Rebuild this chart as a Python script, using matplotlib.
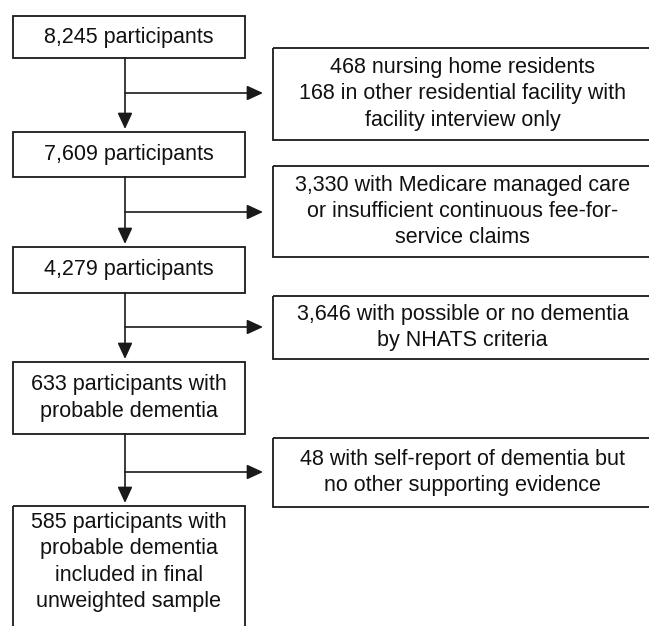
import matplotlib

matplotlib.use("Agg")
import matplotlib.pyplot as plt
from matplotlib.patches import Rectangle

W, H = 649, 626
LINE = "#1a1a1a"
FONT = "Liberation Sans"
FS = 15.5

# flow boxes (left column), top to bottom
MAIN_TEXT = [
    "8,245 participants",
    "7,609 participants",
    "4,279 participants",
    "633 participants with\nprobable dementia",
    "585 participants with\nprobable dementia\nincluded in final\nunweighted sample",
]
# exclusion boxes (right column)
EXCL_TEXT = [
    "468 nursing home residents\n168 in other residential facility with\nfacility interview only",
    "3,330 with Medicare managed care\nor insufficient continuous fee-for-\nservice claims",
    "3,646 with possible or no dementia\nby NHATS criteria",
    "48 with self-report of dementia but\nno other supporting evidence",
]

# layout in pixels (y measured from top)
MAIN_X = (13, 245)
MAIN_Y = [(16, 58), (132, 177), (247, 293), (362, 434), (506, 632)]
EXCL_X = (273, 652)
EXCL_Y = [(48, 140), (166, 257), (296, 359), (438, 507)]
ARROW_Y = [93, 212, 327, 472]
STEM_X = 125


def main():
    fig = plt.figure(figsize=(W / 100, H / 100), dpi=100)
    ax = fig.add_axes([0, 0, 1, 1])
    ax.set_xlim(0, W)
    ax.set_ylim(H, 0)
    ax.axis("off")

    def box(x, y, text, text_y=None):
        ax.add_patch(Rectangle((x[0], y[0]), x[1] - x[0], y[1] - y[0],
                               fill=False, edgecolor=LINE, lw=1.3))
        ty = (y[0] + y[1]) / 2 if text_y is None else text_y
        ax.text((x[0] + x[1]) / 2, ty, text, ha="center", va="center",
                fontsize=FS, family=FONT, color="#111111", linespacing=1.33)

    for i, (txt, y) in enumerate(zip(MAIN_TEXT, MAIN_Y)):
        box(MAIN_X, y, txt, text_y=562 if i == 4 else None)
    for txt, y in zip(EXCL_TEXT, EXCL_Y):
        box((EXCL_X[0], EXCL_X[1]), y, txt)

    arrow = dict(arrowstyle="-|>,head_length=0.65,head_width=0.3", mutation_scale=15,
                 lw=1.2, color=LINE, shrinkA=0, shrinkB=0)
    for i in range(len(MAIN_Y) - 1):
        ax.annotate("", xy=(STEM_X, MAIN_Y[i + 1][0] - 3), xytext=(STEM_X, MAIN_Y[i][1]),
                    arrowprops=arrow)
        ax.annotate("", xy=(EXCL_X[0] - 10, ARROW_Y[i]), xytext=(STEM_X, ARROW_Y[i]),
                    arrowprops=arrow)

    fig.savefig("out.png", dpi=100, facecolor="white")


if __name__ == "__main__":
    main()
